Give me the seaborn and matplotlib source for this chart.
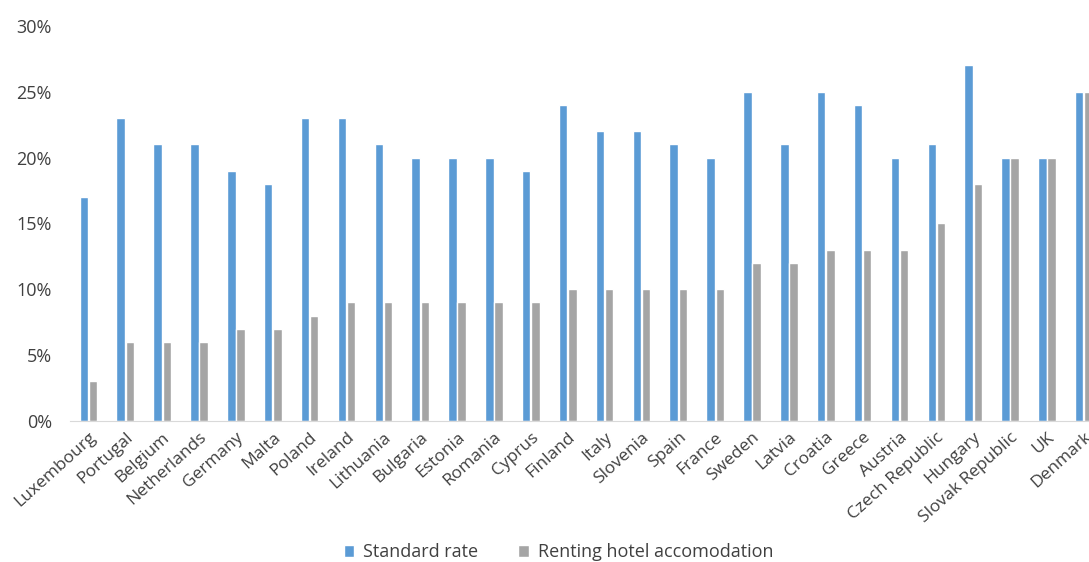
"""VAT rates: standard vs hotel accommodation, EU countries"""

import pandas as pd
import matplotlib
matplotlib.use("Agg")
import matplotlib.pyplot as plt
from matplotlib.ticker import PercentFormatter
import seaborn as sns

countries = ["Luxembourg", "Portugal", "Belgium", "Netherlands", "Germany", "Malta",
             "Poland", "Ireland", "Lithuania", "Bulgaria", "Estonia", "Romania",
             "Cyprus", "Finland", "Italy", "Slovenia", "Spain", "France", "Sweden",
             "Latvia", "Croatia", "Greece", "Austria", "Czech Republic", "Hungary",
             "Slovak Republic", "UK", "Denmark"]
standard_rate = [17, 23, 21, 21, 19, 18, 23, 23, 21, 20, 20, 20, 19, 24, 22, 22,
                 21, 20, 25, 21, 25, 24, 20, 21, 27, 20, 20, 25]
hotel_rate = [3, 6, 6, 6, 7, 7, 8, 9, 9, 9, 9, 9, 9, 10, 10, 10, 10, 10, 12, 12,
              13, 13, 13, 15, 18, 20, 20, 25]
series = ["Standard rate", "Renting hotel accomodation"]
colors = ["#5B9BD5", "#A5A5A5"]

df = pd.DataFrame({
    "country": countries * 2,
    "rate": [v / 100 for v in standard_rate + hotel_rate],
    "series": [series[0]] * len(countries) + [series[1]] * len(countries),
})

sns.set_style("white")
plt.rcParams["font.family"] = ["Open Sans", "DejaVu Sans"]
text_color = "#404040"

fig = plt.figure(figsize=(10.89, 5.62), dpi=100)
ax = fig.add_axes([0.0643, 0.251, 0.9357, 0.703])

sns.barplot(data=df, x="country", y="rate", hue="series", palette=colors,
            saturation=1, width=0.5, gap=0.08, ax=ax, legend=True)

ax.set_ylim(0, 0.30)
ax.set_xlim(-0.5, 27.14)
ax.yaxis.set_major_formatter(PercentFormatter(1.0, decimals=0))
ax.set_yticks([0, 0.05, 0.10, 0.15, 0.20, 0.25, 0.30])
ax.set_xlabel("")
ax.set_ylabel("")
ax.tick_params(axis="x", length=0, colors=text_color, labelsize=12.5, pad=6)
ax.tick_params(axis="y", length=0, colors=text_color, labelsize=13, pad=13)
plt.setp(ax.get_xticklabels(), rotation=42, ha="right", rotation_mode="anchor")

for side in ["top", "right", "left"]:
    ax.spines[side].set_visible(False)
ax.spines["bottom"].set_color("#D9D9D9")

handles, labels = ax.get_legend_handles_labels()
ax.legend_.remove()
fig.legend(handles, labels, loc="center", bbox_to_anchor=(0.513, 0.017),
           ncol=2, frameon=False, fontsize=13, labelcolor=text_color,
           handlelength=0.6, handleheight=0.6, columnspacing=2.2, handletextpad=0.5)

plt.savefig("out.png", dpi=100)
plt.close()
